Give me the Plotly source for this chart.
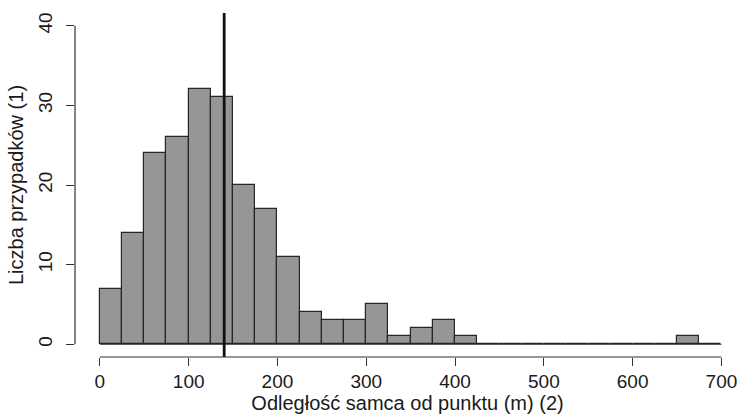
import plotly.graph_objects as go

# Histogram data (bins of 25 m)
bin_edges = list(range(0, 725, 25))
counts = [7, 14, 24, 26, 32, 31, 20, 17, 11, 4, 3, 3, 5, 1, 2, 3, 1,
          0, 0, 0, 0, 0, 0, 0, 0, 0, 1, 0]
median_distance = 140
x_ticks = [0, 100, 200, 300, 400, 500, 600, 700]
y_ticks = [0, 10, 20, 30, 40]
x_title = "Odległość samca od punktu (m) (2)"
y_title = "Liczba przypadków (1)"

centers = [(bin_edges[i] + bin_edges[i + 1]) / 2 for i in range(len(counts))]
widths = [bin_edges[i + 1] - bin_edges[i] for i in range(len(counts))]

FONT = "Liberation Sans, Arial, sans-serif"

fig = go.Figure()
fig.add_trace(go.Bar(
    x=centers, y=counts, width=widths,
    marker=dict(color="#969696", line=dict(color="#262626", width=1.2)),
    hoverinfo="x+y", showlegend=False,
))
# baseline of zero-count bins (as drawn by R's hist)
fig.add_trace(go.Scatter(
    x=[bin_edges[0], bin_edges[-1]], y=[0, 0], mode="lines",
    line=dict(color="#262626", width=1.2), hoverinfo="skip", showlegend=False,
))

# median line
fig.add_shape(type="line", xref="x", yref="paper", x0=median_distance, x1=median_distance,
              y0=0, y1=1, line=dict(color="#111111", width=2.8))
# axis lines (R style: from first to last tick)
fig.add_shape(type="line", xref="x", yref="paper", x0=x_ticks[0], x1=x_ticks[-1],
              y0=0, y1=0, line=dict(color="#333333", width=1.2))
fig.add_shape(type="line", xref="paper", yref="y", x0=0, x1=0,
              y0=y_ticks[0], y1=y_ticks[-1], line=dict(color="#333333", width=1.2))

fig.update_layout(
    width=740, height=420,
    margin=dict(l=75, r=0, t=13, b=63, autoexpand=False),
    paper_bgcolor="white", plot_bgcolor="white",
    font=dict(family=FONT, size=20, color="#1a1a1a"),
    bargap=0,
    xaxis=dict(
        range=[-28, 720.9], tickvals=x_ticks, ticktext=[str(v) for v in x_ticks],
        ticks="outside", ticklen=8, tickwidth=1.2, tickcolor="#333333",
        showgrid=False, zeroline=False, showline=False, automargin=False,
        tickfont=dict(size=19), ticklabelstandoff=-1,
        title=dict(text=x_title, font=dict(size=20), standoff=3),
    ),
    yaxis=dict(
        range=[-1.6, 41.6], tickvals=y_ticks, ticktext=[str(v) for v in y_ticks],
        ticks="outside", ticklen=8, tickwidth=1.2, tickcolor="#333333",
        showgrid=False, zeroline=False, showline=False, tickangle=-90, automargin=False,
        tickfont=dict(size=19), ticklabelstandoff=6,
        title=dict(text=y_title, font=dict(size=20), standoff=6),
    ),
)

fig.write_html("out.html", config={"displayModeBar": False},
               post_script="document.body.style.margin='0';")
